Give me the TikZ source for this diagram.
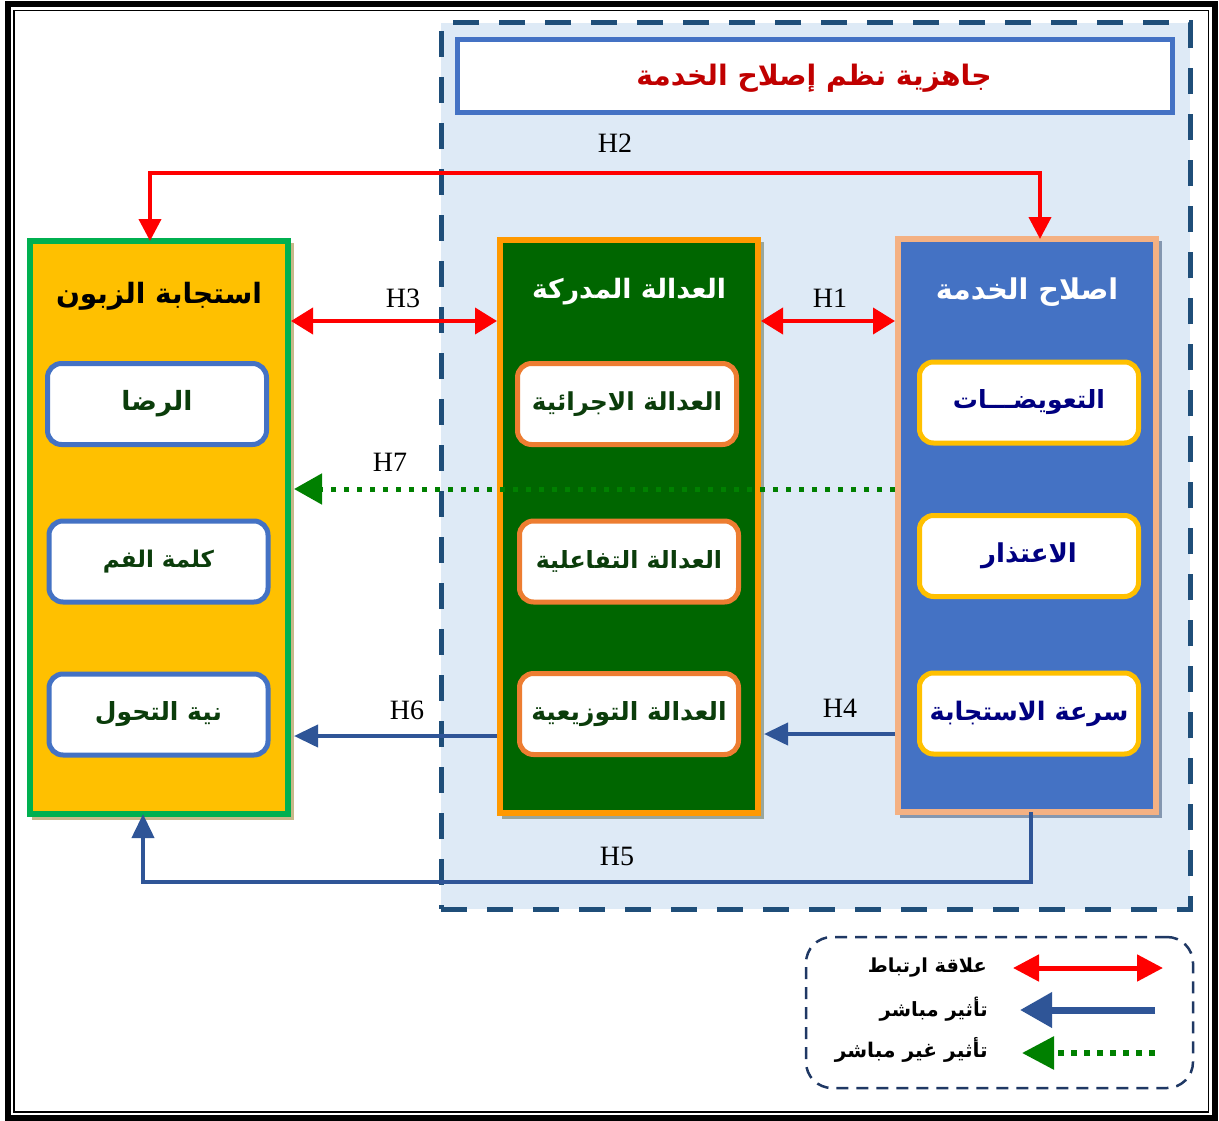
\documentclass[tikz,border=0pt]{standalone}
\usepackage{fontspec}
\setmainfont{Liberation Serif}
\newfontfamily\arabicfont[Script=Arabic]{DejaVu Sans}
\TeXXeTstate=1
\usetikzlibrary{arrows.meta}
\definecolor{contfill}{HTML}{DEEAF6}
\definecolor{contdash}{HTML}{1F4E79}
\definecolor{titleblue}{HTML}{4472C4}
\definecolor{titlered}{HTML}{C00000}
\definecolor{lgreen}{HTML}{00B050}
\definecolor{lyellow}{HTML}{FFC000}
\definecolor{morange}{HTML}{FF9900}
\definecolor{mgreen}{HTML}{006600}
\definecolor{msub}{HTML}{ED7D31}
\definecolor{rsalmon}{HTML}{F4B183}
\definecolor{rblue}{HTML}{4472C4}
\definecolor{rsub}{HTML}{FFC000}
\definecolor{navytext}{HTML}{000080}
\definecolor{dgreentext}{HTML}{0B3D0B}
\definecolor{arrowblue}{HTML}{2F5597}
\definecolor{dotgreen}{HTML}{008000}
\definecolor{legdash}{HTML}{1F3864}
\definecolor{shtan}{HTML}{C8B88A}
\definecolor{shgrey}{HTML}{9AA69A}
\definecolor{shblue}{HTML}{8497B0}
\newcommand\fsz[1]{\fontsize{#1}{#1}\selectfont}
\begin{document}
\begin{tikzpicture}[x=1pt,y=-1pt,
  bigbox/.style={draw, line width=6pt, minimum width=258pt, minimum height=573pt, inner sep=0pt},
  subbox/.style={draw, line width=5pt, fill=white, rounded corners=14pt, minimum width=219pt, minimum height=81pt, inner sep=0pt, font=\arabicfont\bfseries},
  artext/.style={font=\arabicfont\bfseries, inner sep=0pt},
  hlabel/.style={font=\fontsize{28}{30}\selectfont, inner sep=0pt},
  rel/.style={draw=red, line width=4pt, {Triangle[length=22pt,width=26pt]}-{Triangle[length=22pt,width=26pt]}},
  relone/.style={draw=red, line width=4pt, -{Triangle[length=22pt,width=22pt]}},
  dir/.style={draw=arrowblue, line width=4pt, -{Triangle[length=24pt,width=22pt]}},
  indir/.style={draw=dotgreen, line width=5pt, dash pattern=on 5pt off 8pt, -{Triangle[length=28pt,width=30pt]}},
  shadowbox/.style={fill=#1, minimum width=262pt, minimum height=577pt, inner sep=0pt}
]
\useasboundingbox (0,0) rectangle (1219,1121);
\fill[white] (0,0) rectangle (1219,1121);
% outer frame
\draw[line width=6pt] (8,4.5) rectangle (1215,1118);
\draw[line width=1.5pt] (14,10.5) rectangle (1208.5,1112);
% container
\node[fill=contfill, draw=contdash, line width=5pt, dash pattern=on 26pt off 20pt, minimum width=749pt, minimum height=886pt, inner sep=0pt] (cont) at (815.5,466) {};
% title
\node[draw=titleblue, fill=white, line width=5pt, minimum width=715pt, minimum height=73pt, inner sep=0pt] (title) at (815,76) {};
\node[artext, text=titlered] (titletxt) at (814,78) {\fsz{28.2}\beginR جاهزية نظم إصلاح الخدمة\endR};
% shadows
\node[shadowbox=shtan] (Ls) at (163,531.5) {};
\node[shadowbox=shgrey] (Ms) at (633,530) {};
\node[shadowbox=shblue] (Rs) at (1031,529.5) {};
% big boxes
\node[bigbox, draw=lgreen, fill=lyellow] (L) at (159,527.5) {};
\node[bigbox, draw=morange, fill=mgreen] (M) at (629,526) {};
\node[bigbox, draw=rsalmon, fill=rblue] (R) at (1027,525.5) {};
% box titles
\node[artext, text=black] (Lt) at (159,296) {\fsz{28}\beginR استجابة الزبون\endR};
\node[artext, text=white] (Mt) at (629,292) {\fsz{26.7}\beginR العدالة المدركة\endR};
\node[artext, text=white] (Rt) at (1027,292) {\fsz{28.6}\beginR اصلاح الخدمة\endR};
% left sub boxes
\node[subbox, draw=titleblue, text=dgreentext] (L1) at (157,404) {\fsz{26.5}\beginR الرضا\endR};
\node[subbox, draw=titleblue, text=dgreentext] (L2) at (158.5,561.5) {\fsz{23}\beginR كلمة الفم\endR};
\node[subbox, draw=titleblue, text=dgreentext] (L3) at (158.5,714.5) {\fsz{25}\beginR نية التحول\endR};
% middle sub boxes
\node[subbox, draw=msub, text=dgreentext] (M1) at (627,404) {\fsz{24.7}\beginR العدالة الاجرائية\endR};
\node[subbox, draw=msub, text=dgreentext] (M2) at (629,561.5) {\fsz{23.7}\beginR العدالة التفاعلية\endR};
\node[subbox, draw=msub, text=dgreentext] (M3) at (629,714) {\fsz{25}\beginR العدالة التوزيعية\endR};
% right sub boxes
\node[subbox, draw=rsub, text=navytext] (R1) at (1029,402.5) {\fsz{25}\beginR التعويضـــات\endR};
\node[subbox, draw=rsub, text=navytext] (R2) at (1029,556) {\fsz{26}\beginR الاعتذار\endR};
\node[subbox, draw=rsub, text=navytext] (R3) at (1029,713.5) {\fsz{25.5}\beginR سرعة الاستجابة\endR};
% helper coordinates
\coordinate (yA) at (0,321);
\coordinate (yH7) at (0,489);
\coordinate (yH4) at (0,734);
\coordinate (yH6) at (0,736);
\coordinate (h2a) at (1040,173);
\coordinate (h2b) at (150,173);
\coordinate (h5a) at (1031,882);
\coordinate (h5b) at (143,882);
% connectors
\draw[rel] (L.east |- yA) -- (M.west |- yA);
\draw[rel] (M.east |- yA) -- (R.west |- yA);
\draw[relone] (h2b) -- (h2a) -- ([yshift=-3pt]R.north -| h2a);
\draw[relone] (h2a) -- (h2b) -- ([yshift=-3pt]L.north -| h2b);
\draw[indir] (R.west |- yH7) -- ([xshift=3pt]L.east |- yH7);
\draw[dir] (R.west |- yH4) -- ([xshift=3pt]M.east |- yH4);
\draw[dir] (M.west |- yH6) -- ([xshift=3pt]L.east |- yH6);
\draw[dir] ([yshift=3pt]R.south -| h5a) -- (h5a) -- (h5b) -- ([yshift=3pt]L.south -| h5b);
% H labels
\node[hlabel] (H1) at (830,298) {H1};
\node[hlabel] (H2) at (615,143) {H2};
\node[hlabel] (H3) at (403,298) {H3};
\node[hlabel] (H4) at (840,708) {H4};
\node[hlabel] (H5) at (617,856) {H5};
\node[hlabel] (H6) at (407,710) {H6};
\node[hlabel] (H7) at (390,462) {H7};
% legend
\node[draw=legdash, line width=2.5pt, dash pattern=on 12pt off 8pt, rounded corners=26pt, minimum width=387pt, minimum height=151pt, inner sep=0pt] (leg) at (999.5,1012.5) {};
\coordinate (la1) at (1013,968);
\coordinate (la2) at (1163,968);
\coordinate (lb1) at (1155,1010);
\coordinate (lb2) at (1020,1010);
\coordinate (lc1) at (1155,1053);
\coordinate (lc2) at (1022,1053);
\draw[draw=red, line width=5pt, {Triangle[length=26pt,width=26pt]}-{Triangle[length=26pt,width=26pt]}] (la1) -- (la2);
\draw[draw=arrowblue, line width=7pt, -{Triangle[length=32pt,width=34pt]}] (lb1) -- (lb2);
\draw[draw=dotgreen, line width=6pt, dash pattern=on 6pt off 7pt, -{Triangle[length=32pt,width=32pt]}] (lc1) -- (lc2);
\node[artext, anchor=east] (lt1) at (987,968) {\fsz{19.3}\beginR علاقة ارتباط\endR};
\node[artext, anchor=east] (lt2) at (988,1009) {\fsz{19.6}\beginR تأثير مباشر\endR};
\node[artext, anchor=east] (lt3) at (988,1050) {\fsz{20.2}\beginR تأثير غير مباشر\endR};
\end{tikzpicture}
\end{document}
